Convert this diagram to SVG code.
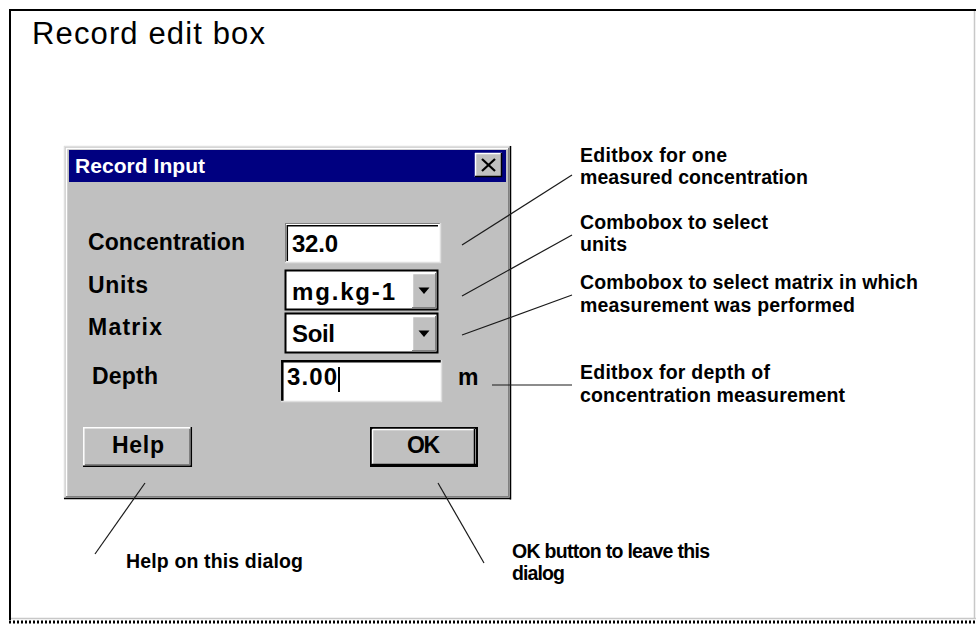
<svg xmlns="http://www.w3.org/2000/svg" width="976" height="624" viewBox="0 0 976 624">
<style>
text{font-family:"Liberation Sans",Arial,sans-serif;fill:#000}
.dlg{font-size:23px;font-weight:bold}
.val{font-size:24px;font-weight:bold}
.ann{font-size:19.5px;font-weight:bold}
.conn line{stroke:#1a1a1a;stroke-width:1.2}
.hi{stroke:#ffffff;stroke-width:1.5}
.lo{stroke:#000;stroke-width:1.5}
.mid{stroke:#808080;stroke-width:1}
.lt{stroke:#dfdfdf;stroke-width:1.5}
</style>
<rect x="0" y="0" width="976" height="624" fill="#ffffff"/>
<g id="frame">
<line x1="9" y1="10" x2="976" y2="10" stroke="#000" stroke-width="2"/>
<line x1="10" y1="9" x2="10" y2="620" stroke="#000" stroke-width="2"/>
<line x1="974.5" y1="11" x2="974.5" y2="619" stroke="#c8c8c8" stroke-width="1.5"/>
<line x1="11" y1="618.5" x2="976" y2="618.5" stroke="#c8c8c8" stroke-width="1.5"/>
<line x1="9" y1="622" x2="976" y2="622" stroke="#000" stroke-width="3" stroke-dasharray="2,2"/>
</g>
<text id="title" x="32" y="44" font-size="31" textLength="233">Record edit box</text>
<g id="dialog">
<rect x="64" y="146" width="447" height="353" fill="#c0c0c0"/>
<line class="lt" x1="64" y1="146.5" x2="511" y2="146.5"/>
<line class="lt" x1="64.5" y1="146" x2="64.5" y2="499"/>
<line class="hi" x1="66" y1="148.5" x2="508" y2="148.5"/>
<line class="hi" x1="66.5" y1="148" x2="66.5" y2="496"/>
<line class="lo" x1="510.5" y1="146" x2="510.5" y2="499.5"/>
<line class="lo" x1="64" y1="498.5" x2="511" y2="498.5"/>
<line class="mid" x1="508.5" y1="148" x2="508.5" y2="497"/>
<line class="mid" x1="66" y1="496.5" x2="509" y2="496.5"/>
<rect x="69" y="150" width="437" height="32" fill="#000080"/>
<text x="75" y="173" font-size="21" font-weight="bold" style="fill:#ffffff" textLength="130">Record Input</text>
<g id="close-btn">
<rect x="475" y="153" width="27" height="24" fill="#c0c0c0"/>
<line class="hi" x1="475" y1="153.5" x2="502" y2="153.5"/>
<line class="hi" x1="475.5" y1="153" x2="475.5" y2="177"/>
<line class="lo" x1="501.5" y1="153" x2="501.5" y2="177"/>
<line class="lo" x1="475" y1="176.5" x2="502" y2="176.5"/>
<line x1="482" y1="159" x2="495" y2="171" stroke="#000" stroke-width="2.2"/>
<line x1="495" y1="159" x2="482" y2="171" stroke="#000" stroke-width="2.2"/>
</g>
</g>
<g id="lbl-concentration"><text class="dlg" x="88" y="250" textLength="157">Concentration</text></g>
<g id="lbl-units"><text class="dlg" x="88" y="293" textLength="60">Units</text></g>
<g id="lbl-matrix"><text class="dlg" x="88" y="335" textLength="74">Matrix</text></g>
<g id="lbl-depth"><text class="dlg" x="92" y="384" textLength="66">Depth</text></g>
<g id="edit-concentration">
<rect x="285" y="223" width="155" height="40" fill="#ffffff"/>
<line class="mid" x1="285" y1="223.5" x2="440" y2="223.5"/>
<line class="mid" x1="285.5" y1="223" x2="285.5" y2="263"/>
<line stroke="#000" stroke-width="1.5" x1="287" y1="225.8" x2="438" y2="225.8"/>
<line stroke="#000" stroke-width="1.5" x1="287.3" y1="225" x2="287.3" y2="261"/>
<line class="lt" x1="285" y1="262.5" x2="441" y2="262.5"/>
<line class="lt" x1="440.5" y1="223" x2="440.5" y2="263"/>
<text class="val" x="292" y="252" textLength="46">32.0</text>
</g>
<g id="combo-units">
<rect x="285.5" y="270.5" width="152" height="39" fill="#ffffff" stroke="#000" stroke-width="2"/>
<rect x="412" y="273" width="24" height="35" fill="#c0c0c0"/>
<line class="hi" x1="412" y1="273.5" x2="436" y2="273.5"/>
<line class="hi" x1="412.5" y1="273" x2="412.5" y2="308"/>
<line class="mid" x1="435.5" y1="273" x2="435.5" y2="308"/>
<line class="mid" x1="412" y1="307.5" x2="436" y2="307.5"/>
<polygon points="418.5,287.5 429.5,287.5 424,294" fill="#000"/>
<text class="val" x="292" y="300" textLength="103">mg.kg-1</text>
</g>
<g id="combo-matrix">
<rect x="285.5" y="313.5" width="152" height="39" fill="#ffffff" stroke="#000" stroke-width="2"/>
<rect x="412" y="316" width="24" height="35" fill="#c0c0c0"/>
<line class="hi" x1="412" y1="316.5" x2="436" y2="316.5"/>
<line class="hi" x1="412.5" y1="316" x2="412.5" y2="351"/>
<line class="mid" x1="435.5" y1="316" x2="435.5" y2="351"/>
<line class="mid" x1="412" y1="350.5" x2="436" y2="350.5"/>
<polygon points="418.5,330.5 429.5,330.5 424,337" fill="#000"/>
<text class="val" x="292" y="342" textLength="43">Soil</text>
</g>
<g id="edit-depth">
<rect x="281" y="360" width="161" height="42" fill="#ffffff"/>
<line stroke="#000" stroke-width="2.5" x1="281" y1="361.3" x2="441" y2="361.3"/>
<line stroke="#000" stroke-width="2.5" x1="282.3" y1="360" x2="282.3" y2="401"/>
<line class="lt" x1="281" y1="401.5" x2="442" y2="401.5"/>
<line class="lt" x1="441.5" y1="360" x2="441.5" y2="402"/>
<text class="val" x="287" y="385" textLength="50">3.00</text>
<line x1="339" y1="367" x2="339" y2="392" stroke="#000" stroke-width="2"/>
</g>
<g id="unit-m"><text class="dlg" x="458" y="385" textLength="19">m</text></g>
<g id="btn-help">
<rect x="83" y="427" width="109" height="40" fill="#c0c0c0"/>
<line class="hi" x1="83" y1="427.8" x2="192" y2="427.8"/>
<line class="hi" x1="83.8" y1="427" x2="83.8" y2="467"/>
<line class="lo" x1="191.3" y1="427" x2="191.3" y2="467"/>
<line class="lo" x1="83" y1="466.3" x2="192" y2="466.3"/>
<line class="mid" x1="189.5" y1="429" x2="189.5" y2="465"/>
<line class="mid" x1="85" y1="464.5" x2="190" y2="464.5"/>
<text class="dlg" x="112" y="453" textLength="52">Help</text>
</g>
<g id="btn-ok">
<rect x="370" y="427" width="108" height="40" fill="#c0c0c0"/>
<rect x="371" y="428" width="106" height="38" fill="none" stroke="#000" stroke-width="2"/>
<line class="hi" x1="372.5" y1="429.5" x2="475" y2="429.5"/>
<line class="hi" x1="372.5" y1="429.5" x2="372.5" y2="464"/>
<line class="lo" x1="474.5" y1="429" x2="474.5" y2="465"/>
<line class="lo" x1="372" y1="464.5" x2="476" y2="464.5"/>
<text class="dlg" x="407" y="453" textLength="33">OK</text>
</g>
<g id="connectors" class="conn">
<line x1="462" y1="245" x2="572" y2="175"/>
<line x1="462" y1="296" x2="572" y2="235"/>
<line x1="462" y1="335" x2="572" y2="295"/>
<line x1="492" y1="385" x2="572" y2="385"/>
<line x1="145" y1="483" x2="95" y2="554"/>
<line x1="438" y1="483" x2="484" y2="563"/>
</g>
<g id="ann-edit-conc">
<text class="ann" x="580" y="162" textLength="147">Editbox for one</text>
<text class="ann" x="580" y="184" textLength="228">measured concentration</text>
</g>
<g id="ann-combo-units">
<text class="ann" x="580" y="229" textLength="188">Combobox to select</text>
<text class="ann" x="580" y="251" textLength="47">units</text>
</g>
<g id="ann-combo-matrix">
<text class="ann" x="580" y="289" textLength="338">Combobox to select matrix in which</text>
<text class="ann" x="580" y="312" textLength="275">measurement was performed</text>
</g>
<g id="ann-edit-depth">
<text class="ann" x="580" y="379" textLength="190">Editbox for depth of</text>
<text class="ann" x="580" y="402" textLength="265">concentration measurement</text>
</g>
<g id="ann-help">
<text class="ann" x="126" y="568" textLength="177">Help on this dialog</text>
</g>
<g id="ann-ok">
<text class="ann" x="512" y="558" textLength="198">OK button to leave this</text>
<text class="ann" x="512" y="580" textLength="53">dialog</text>
</g>
</svg>
